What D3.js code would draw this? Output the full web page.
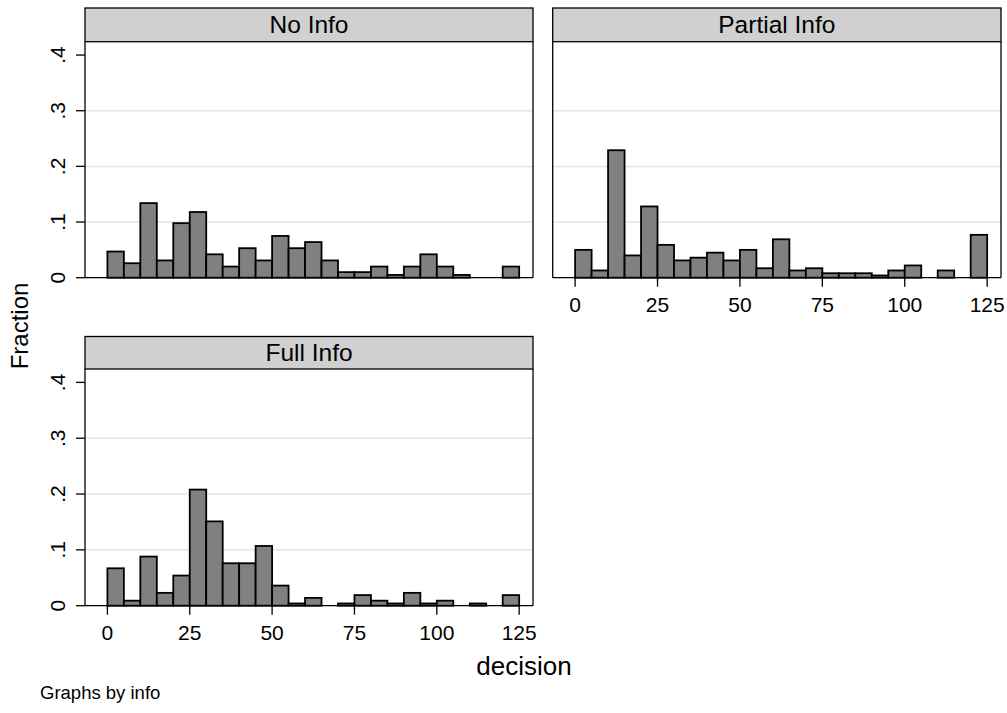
<!DOCTYPE html>
<html>
<head>
<meta charset="utf-8">
<script src="https://cdn.jsdelivr.net/npm/d3@7"></script>
<style>
  body { margin: 0; background: #fff; }
  text { font-family: Arial, "Liberation Sans", sans-serif; fill: #000; }
</style>
</head>
<body>
<svg id="chart" width="1007" height="713"></svg>
<script>
// bin left edges (width 5)
const binStarts = [0, 5, 10, 15, 20, 25, 30, 35, 40, 45, 50, 55, 60, 65, 70, 75, 80, 85, 90, 95, 100, 105, 110, 115, 120];
const binWidth = 5;

const panelNames = ["No Info", "Partial Info", "Full Info"];

// fraction per bin
const noInfo = [0.047, 0.026, 0.134, 0.031, 0.098, 0.118, 0.042, 0.020, 0.053, 0.031,
                0.075, 0.053, 0.064, 0.031, 0.010, 0.010, 0.020, 0.005, 0.020, 0.042,
                0.020, 0.005, 0, 0, 0.020];
const partialInfo = [0.050, 0.013, 0.229, 0.040, 0.128, 0.059, 0.031, 0.036, 0.045, 0.031,
                     0.050, 0.017, 0.069, 0.013, 0.017, 0.008, 0.008, 0.008, 0.004, 0.013,
                     0.022, 0, 0.013, 0, 0.077];
const fullInfo = [0.067, 0.009, 0.088, 0.023, 0.054, 0.208, 0.151, 0.076, 0.076, 0.107,
                  0.036, 0.004, 0.014, 0, 0.004, 0.019, 0.009, 0.004, 0.023, 0.004,
                  0.009, 0, 0.004, 0, 0.019];

const yTicks = [0, 0.1, 0.2, 0.3, 0.4];
const yTickLabels = ["0", ".1", ".2", ".3", ".4"];
const xTicks = [0, 25, 50, 75, 100, 125];

const svg = d3.select("#chart");

// panel layout: left, right, strip top, strip bottom, baseline
const panels = [
  {name: panelNames[0], values: noInfo,      x0: 85,    x1: 533,  st: 8,     sb: 41.7, base: 277.7, yAxis: true,  xAxis: false},
  {name: panelNames[1], values: partialInfo, x0: 552.7, x1: 1001, st: 8,     sb: 41.7, base: 277.7, yAxis: false, xAxis: true},
  {name: panelNames[2], values: fullInfo,    x0: 85,    x1: 533,  st: 336.5, sb: 369,  base: 605.7, yAxis: true,  xAxis: true}
];

function draw_panel(p) {
  const g = svg.append("g");
  const xScale = d3.scaleLinear().domain([-6.8, 129.2]).range([p.x0, p.x1]);
  const yScale = d3.scaleLinear().domain([0, 0.424]).range([p.base, p.sb]);

  // gridlines (.1 .2 .3)
  g.selectAll(".grid")
    .data(yTicks.filter(d => d > 0 && d < 0.35))
    .enter()
    .append("line")
    .attr("x1", p.x0).attr("x2", p.x1)
    .attr("y1", d => yScale(d)).attr("y2", d => yScale(d))
    .style("stroke", "#e4e4e4")
    .style("stroke-width", 1.5);

  // bars
  const bins = binStarts.map((b, i) => ({start: b, v: p.values[i]})).filter(d => d.v > 0);
  g.selectAll(".bar")
    .data(bins)
    .enter()
    .append("rect")
    .attr("x", d => xScale(d.start))
    .attr("y", d => yScale(d.v))
    .attr("width", d => xScale(d.start + binWidth) - xScale(d.start))
    .attr("height", d => yScale(0) - yScale(d.v))
    .style("fill", "#808080")
    .style("stroke", "#000")
    .style("stroke-width", 1.8);

  // frame: left, right, bottom
  g.append("line").attr("x1", p.x0).attr("x2", p.x0).attr("y1", p.sb).attr("y2", p.base)
    .style("stroke", "#000").style("stroke-width", 1.3);
  g.append("line").attr("x1", p.x1).attr("x2", p.x1).attr("y1", p.sb).attr("y2", p.base)
    .style("stroke", "#000").style("stroke-width", 1.3);
  g.append("line").attr("x1", p.x0).attr("x2", p.x1).attr("y1", p.base).attr("y2", p.base)
    .style("stroke", "#000").style("stroke-width", 1.3);

  // strip
  g.append("rect")
    .attr("x", p.x0).attr("y", p.st)
    .attr("width", p.x1 - p.x0).attr("height", p.sb - p.st)
    .style("fill", "#d0d0d0")
    .style("stroke", "#000")
    .style("stroke-width", 1.3);
  g.append("text")
    .attr("x", (p.x0 + p.x1) / 2)
    .attr("y", (p.st + p.sb) / 2 + 8.5)
    .style("text-anchor", "middle")
    .style("font-size", "24.5px")
    .text(p.name);

  if (p.yAxis) {
    g.selectAll(".ytick")
      .data(yTicks)
      .enter()
      .append("line")
      .attr("x1", p.x0 - 9).attr("x2", p.x0)
      .attr("y1", d => yScale(d)).attr("y2", d => yScale(d))
      .style("stroke", "#000").style("stroke-width", 1.3);
    g.selectAll(".ylabel")
      .data(yTicks)
      .enter()
      .append("text")
      .attr("transform", d => `translate(${p.x0 - 20},${yScale(d)}) rotate(-90)`)
      .style("text-anchor", "middle")
      .style("font-size", "21px")
      .text((d, i) => yTickLabels[i]);
  }

  if (p.xAxis) {
    g.selectAll(".xtick")
      .data(xTicks)
      .enter()
      .append("line")
      .attr("x1", d => xScale(d)).attr("x2", d => xScale(d))
      .attr("y1", p.base).attr("y2", p.base + 9)
      .style("stroke", "#000").style("stroke-width", 1.3);
    g.selectAll(".xlabel")
      .data(xTicks)
      .enter()
      .append("text")
      .attr("x", d => xScale(d))
      .attr("y", p.base + 34)
      .style("text-anchor", "middle")
      .style("font-size", "21px")
      .text(d => d);
  }
}

panels.forEach(draw_panel);

// axis titles and note
svg.append("text")
  .attr("transform", "translate(28,326) rotate(-90)")
  .style("text-anchor", "middle")
  .style("font-size", "24px")
  .text("Fraction");

svg.append("text")
  .attr("x", 524)
  .attr("y", 675)
  .style("text-anchor", "middle")
  .style("font-size", "26px")
  .text("decision");

svg.append("text")
  .attr("x", 40)
  .attr("y", 699)
  .style("font-size", "18.5px")
  .text("Graphs by info");
</script>
</body>
</html>
